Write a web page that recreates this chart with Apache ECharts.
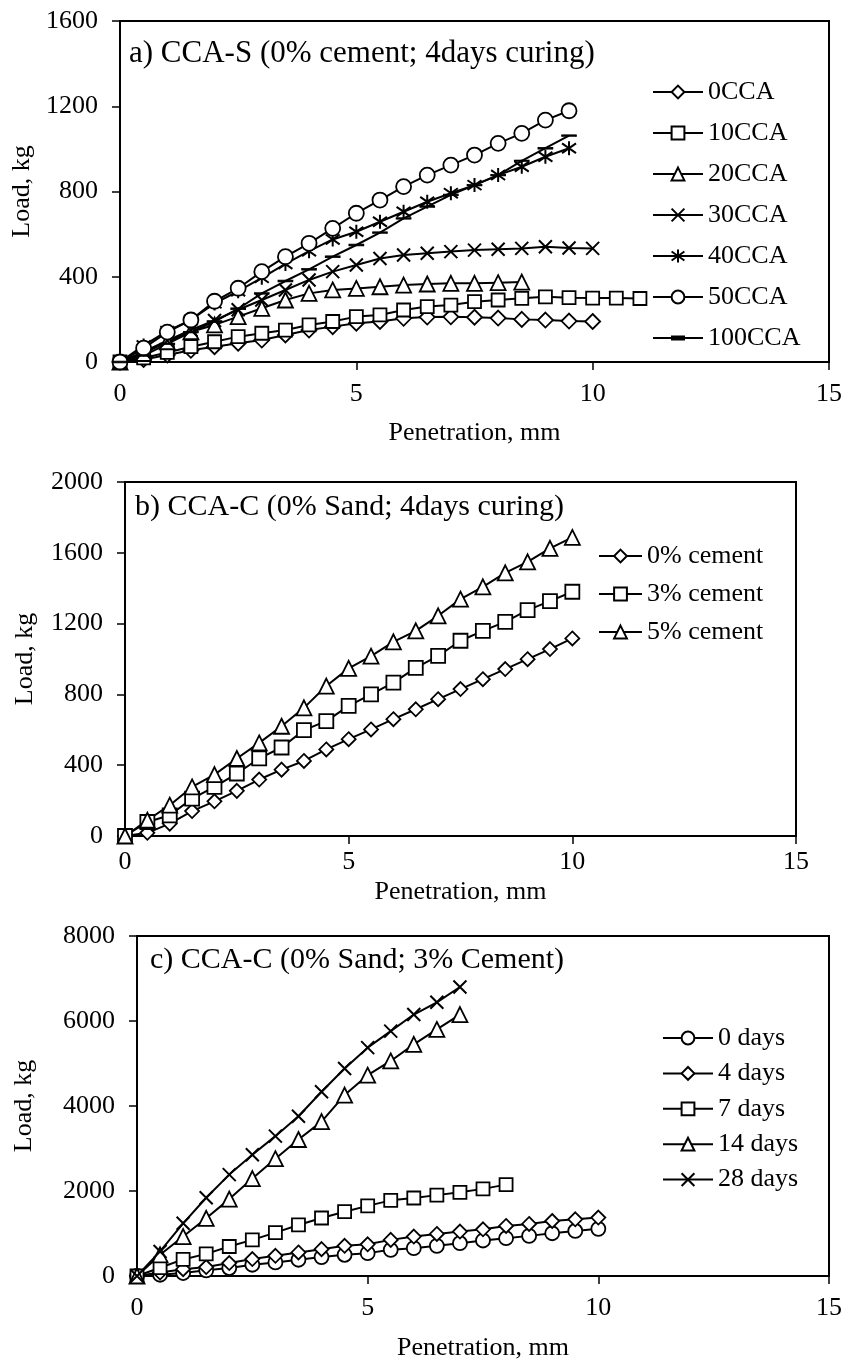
<!DOCTYPE html>
<html>
<head>
<meta charset="utf-8">
<script src="https://cdn.jsdelivr.net/npm/echarts@6/dist/echarts.min.js"></script>
<style>
html,body{margin:0;padding:0;background:#fff;}
#c{width:845px;height:1362px;}
</style>
</head>
<body>
<div id="c"></div>
<script>
// Penetration (mm) readings
const penetration = [0,0.5,1,1.5,2,2.5,3,3.5,4,4.5,5,5.5,6,6.5,7,7.5,8,8.5,9,9.5,10,10.5,11];

// Panel a) CCA-S (0% cement; 4days curing) - Load, kg
const a_0CCA   = [0,12,33,55,72,88,103,127,150,166,182,190,205,211,212,210,206,200,197,192,190];
const a_10CCA  = [0,19,45,72,95,119,135,150,174,190,213,221,244,260,267,283,291,299,306,302,300,300,298,292];
const a_20CCA  = [0,40,95,142,174,213,252,291,322,338,345,353,361,366,369,369,372,375];
const a_30CCA  = [0,48,100,150,195,245,291,338,385,424,455,486,502,510,518,525,529,533,541,535,533];
const a_40CCA  = [0,78,145,197,275,332,395,460,520,575,611,658,705,752,792,830,877,916,963,1003];
const a_50CCA  = [0,65,140,197,285,346,424,494,557,627,698,760,823,877,924,971,1026,1073,1135,1179];
const a_100CCA = [0,30,85,140,190,250,322,380,435,494,549,607,674,729,784,830,877,944,1003,1062];

// Panel b) CCA-C (0% Sand; 4days curing)
const b_0cement = [0,18,70,141,196,255,319,375,424,489,547,602,660,716,773,830,886,943,999,1056,1116];
const b_3cement = [0,79,117,211,277,353,438,500,598,649,735,800,867,950,1018,1103,1159,1210,1276,1327,1380];
const b_5cement = [0,89,174,277,347,438,526,620,724,847,947,1016,1097,1159,1244,1338,1408,1487,1549,1625,1687];

// Panel c) CCA-C (0% Sand; 3% Cement)
const c_0days  = [0,30,70,133,187,265,320,382,445,499,538,616,655,710,772,835,889,944,1006,1060,1110];
const c_4days  = [0,80,160,211,304,398,476,554,632,710,745,850,928,990,1045,1099,1177,1224,1294,1333,1375];
const c_7days  = [0,195,390,520,694,850,1020,1201,1365,1513,1650,1780,1835,1903,1970,2050,2150];
const c_14days = [0,499,928,1357,1809,2292,2760,3212,3633,4257,4725,5060,5450,5801,6152];
const c_28days = [0,577,1240,1841,2386,2854,3291,3759,4335,4882,5373,5762,6152,6440,6800];

// Tick settings
const xTicks = {min:0, max:15, interval:5};
const yTicksA = {min:0, max:1600, interval:400};
const yTicksB = {min:0, max:2000, interval:400};
const yTicksC = {min:0, max:8000, interval:2000};

const FONT = '"Liberation Serif", "Times New Roman", serif';
const SYM = {
  diamond: 'diamond',
  square: 'rect',
  triangle: 'triangle',
  circle: 'circle',
  cross: 'path://M0,0L10,10M10,0L0,10',
  star: 'path://M5,0L5,10M0.8,1.5L9.2,8.5M9.2,1.5L0.8,8.5',
  dash: 'path://M0,0L10,0L10,3.5L0,3.5Z'
};

function pairs(vals){ return vals.map((v,i)=>[penetration[i], v]); }

function mkSeries(name, vals, sym, gi, opts){
  opts = opts || {};
  return {
    name: name, type: 'line', xAxisIndex: gi, yAxisIndex: gi,
    data: pairs(vals),
    symbol: SYM[sym], symbolSize: opts.size || 14,
    symbolKeepAspect: !!opts.keep,
    showAllSymbol: true,
    lineStyle: {color:'#000', width:2},
    itemStyle: {color: opts.fill || '#fff', borderColor:'#000', borderWidth: opts.bw || 1.8},
    emphasis: {disabled:true},
    animation: false,
    z: 3
  };
}

const plainNum = v => String(v);

function xAx(gi, nameGap, labelMargin){
  return Object.assign({
    type:'value', gridIndex: gi, name:'Penetration, mm', nameLocation:'middle', nameGap: nameGap,
    nameTextStyle:{fontFamily:FONT, fontSize:26, color:'#000'},
    axisLine:{show:true, onZero:false, lineStyle:{color:'#000', width:2}},
    axisTick:{show:true, inside:false, length:8, lineStyle:{color:'#000', width:1.5}},
    axisLabel:{fontFamily:FONT, fontSize:26, color:'#000', margin: labelMargin, formatter: plainNum},
    splitLine:{show:false}
  }, xTicks);
}
function yAx(gi, ticks, nameGap){
  return Object.assign({
    type:'value', gridIndex: gi, name:'Load, kg', nameLocation:'middle', nameGap: nameGap,
    nameTextStyle:{fontFamily:FONT, fontSize:26, color:'#000'},
    axisLine:{show:true, onZero:false, lineStyle:{color:'#000', width:2}},
    axisTick:{show:true, inside:false, length:8, lineStyle:{color:'#000', width:1.5}},
    axisLabel:{fontFamily:FONT, fontSize:26, color:'#000', margin:22, formatter: plainNum},
    splitLine:{show:false}
  }, ticks);
}

function legend(names, left, top, itemWidth, gap){
  return {
    data: names, orient:'vertical', left:left, top:top, padding:0,
    itemWidth:itemWidth, itemHeight:16, itemGap:gap, selectedMode:false,
    textStyle:{fontFamily:FONT, fontSize:26, color:'#000', lineHeight:26}
  };
}

const legendA = ['0CCA','10CCA','20CCA','30CCA','40CCA','50CCA',
  {name:'100CCA', icon:'path://M0,7H50V9H0ZM18,5.5H32V10.5H18Z', itemStyle:{color:'#000', borderWidth:0}}];

const chart = echarts.init(document.getElementById('c'), null, {renderer:'canvas'});
chart.setOption({
  backgroundColor:'#fff',
  animation:false,
  grid:[
    {left:120, top:21, width:712, height:341, show:true, borderColor:'#000', borderWidth:2, containLabel:false},
    {left:125, top:482, width:671, height:354, show:true, borderColor:'#000', borderWidth:2, containLabel:false},
    {left:137, top:936, width:695, height:342, show:true, borderColor:'#000', borderWidth:2, containLabel:false}
  ],
  xAxis:[xAx(0,58,19), xAx(1,43,13), xAx(2,59,19)],
  yAxis:[yAx(0,yTicksA,84), yAx(1,yTicksB,87), yAx(2,yTicksC,100)],
  legend:[
    legend(legendA, 652, 79, 50, 15),
    legend(['0% cement','3% cement','5% cement'], 598, 543, 43, 12),
    legend(['0 days','4 days','7 days','14 days','28 days'], 662, 1025, 50, 9.4)
  ],
  graphic:[
    {type:'text', left:129, top:38, style:{text:'a) CCA-S (0% cement; 4days curing)', font:'31px '+FONT, fill:'#000'}},
    {type:'text', left:135, top:492, style:{text:'b) CCA-C (0% Sand; 4days curing)', font:'30px '+FONT, fill:'#000'}},
    {type:'text', left:150, top:945, style:{text:'c) CCA-C (0% Sand; 3% Cement)', font:'30px '+FONT, fill:'#000'}}
  ],
  series:[
    mkSeries('0CCA', a_0CCA, 'diamond', 0, {size:15}),
    mkSeries('10CCA', a_10CCA, 'square', 0, {size:13}),
    mkSeries('20CCA', a_20CCA, 'triangle', 0, {size:15}),
    mkSeries('30CCA', a_30CCA, 'cross', 0, {size:13, bw:2}),
    mkSeries('40CCA', a_40CCA, 'star', 0, {size:14, bw:2}),
    mkSeries('50CCA', a_50CCA, 'circle', 0, {size:15}),
    mkSeries('100CCA', a_100CCA, 'dash', 0, {size:[14,5], keep:true, fill:'#000', bw:1}),

    mkSeries('0% cement', b_0cement, 'diamond', 1, {size:14}),
    mkSeries('3% cement', b_3cement, 'square', 1, {size:14}),
    mkSeries('5% cement', b_5cement, 'triangle', 1, {size:15}),

    mkSeries('0 days', c_0days, 'circle', 2, {size:14}),
    mkSeries('4 days', c_4days, 'diamond', 2, {size:14}),
    mkSeries('7 days', c_7days, 'square', 2, {size:13}),
    mkSeries('14 days', c_14days, 'triangle', 2, {size:15}),
    mkSeries('28 days', c_28days, 'cross', 2, {size:13, bw:2})
  ]
});
</script>
</body>
</html>
